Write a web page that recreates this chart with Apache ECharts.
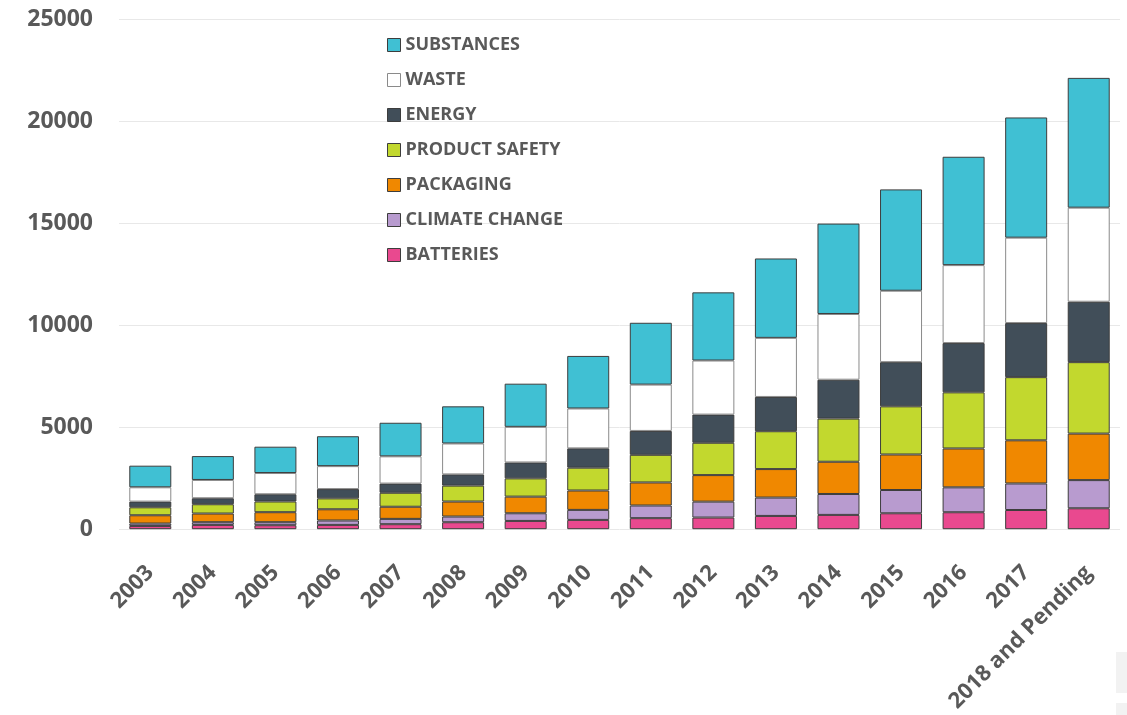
<!DOCTYPE html>
<html>
<head>
<meta charset="utf-8">
<script src="https://cdn.jsdelivr.net/npm/echarts@6/dist/echarts.min.js"></script>
<style>html,body{margin:0;padding:0;background:#fff;}#c{width:1127px;height:715px;}</style>
</head>
<body>
<div id="c"></div>
<script>
const categories = ['2003','2004','2005','2006','2007','2008','2009','2010','2011','2012','2013','2014','2015','2016','2017','2018 and Pending'];
const batteries     = [160, 210, 195, 210, 245, 340, 405, 455, 540, 570, 650, 700, 780, 830, 940, 1025];
const climateChange = [117, 132, 147, 215, 260, 280, 375, 490, 620, 780, 900, 1025, 1140, 1220, 1300, 1380];
const packaging     = [405, 425, 490, 550, 595, 735, 815, 950, 1130, 1300, 1395, 1580, 1740, 1905, 2115, 2280];
const productSafety = [390, 455, 525, 535, 685, 780, 895, 1120, 1355, 1585, 1855, 2115, 2360, 2750, 3095, 3500];
const energy        = [280, 295, 355, 455, 450, 550, 780, 945, 1170, 1380, 1680, 1905, 2165, 2415, 2650, 2960];
const waste         = [700, 895, 1040, 1125, 1335, 1515, 1745, 1955, 2270, 2650, 2895, 3220, 3500, 3820, 4185, 4610];
const substances    = [1060, 1170, 1290, 1465, 1645, 1820, 2115, 2575, 3030, 3340, 3890, 4430, 4965, 5310, 5890, 6360];
const yTicks = [0, 5000, 10000, 15000, 20000, 25000];

const textColor = '#595959';
const font = 'Open Sans';
function s(name, data, color, border) {
  return {
    name: name, type: 'bar', stack: 'total', data: data, barWidth: 42,
    itemStyle: { color: color, borderColor: border || '#3d3d3d', borderWidth: 1 },
    emphasis: { disabled: true }
  };
}
const chart = echarts.init(document.getElementById('c'));
chart.setOption({
  animation: false,
  backgroundColor: '#fff',
  grid: { left: 119, right: 7, top: 19, bottom: 184, containLabel: false },
  legend: {
    orient: 'vertical', left: 382, top: 31, itemWidth: 13, itemHeight: 13, itemGap: 17,
    icon: 'rect',
    data: ['SUBSTANCES','WASTE','ENERGY','PRODUCT SAFETY','PACKAGING','CLIMATE CHANGE','BATTERIES'],
    textStyle: { color: textColor, fontFamily: font, fontWeight: 'bold', fontSize: 18, lineHeight: 18 },
    itemStyle: { borderWidth: 1 }
  },
  xAxis: {
    type: 'category', data: categories,
    axisLine: { show: false }, axisTick: { show: false },
    axisLabel: { rotate: 45, interval: 0, margin: 40, color: textColor, fontFamily: font, fontWeight: 'bold', fontSize: 22 }
  },
  yAxis: {
    type: 'value', min: yTicks[0], max: yTicks[yTicks.length-1], interval: 5000,
    axisLine: { show: false }, axisTick: { show: false },
    splitLine: { lineStyle: { color: '#e8e8e8', width: 1 } },
    axisLabel: { margin: 26, color: textColor, fontFamily: font, fontWeight: 'bold', fontSize: 23,
      formatter: function (v) { return String(v); } }
  },
  series: [
    s('BATTERIES', batteries, '#e9498f'),
    s('CLIMATE CHANGE', climateChange, '#b89bcf'),
    s('PACKAGING', packaging, '#f08800'),
    s('PRODUCT SAFETY', productSafety, '#c2d82e'),
    s('ENERGY', energy, '#414e59'),
    s('WASTE', waste, '#ffffff', '#8a8a8a'),
    s('SUBSTANCES', substances, '#40c0d3')
  ],
  graphic: [
    { type: 'rect', shape: { x: 1116, y: 652, width: 11, height: 41 }, style: { fill: '#f2f2f2' }, silent: true },
    { type: 'rect', shape: { x: 1116, y: 703, width: 11, height: 12 }, style: { fill: '#f2f2f2' }, silent: true }
  ]
});
</script>
</body>
</html>
